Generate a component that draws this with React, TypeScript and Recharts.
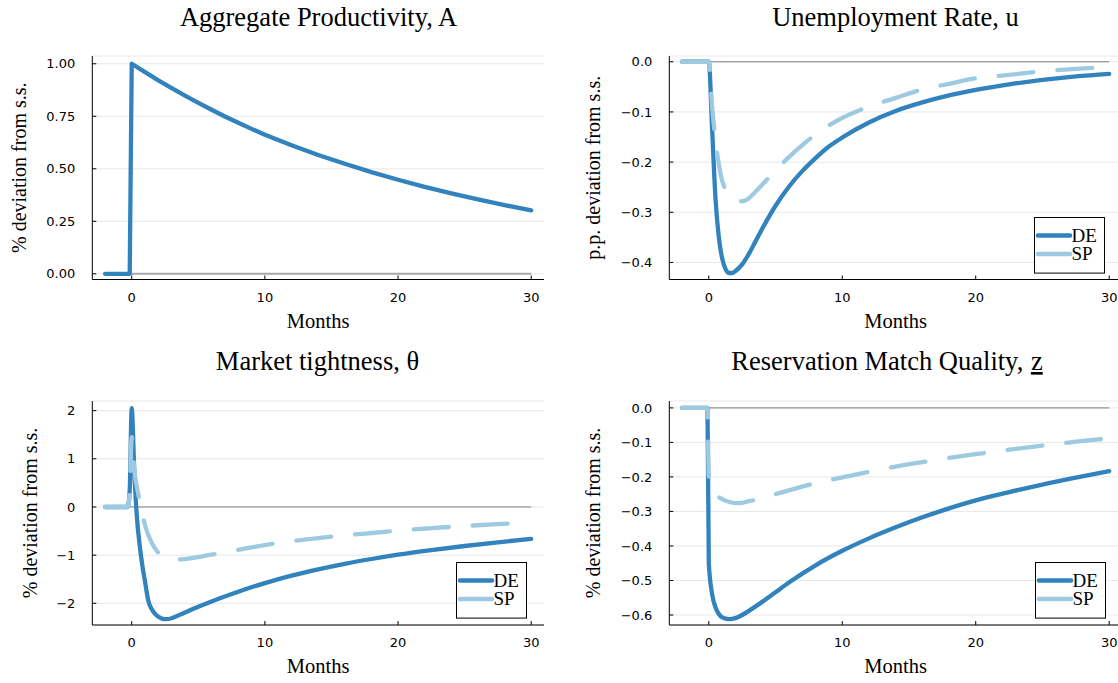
import { CartesianGrid, Legend, Line, LineChart, ReferenceLine, XAxis, YAxis } from "recharts";

// impulse responses, months relative to the shock
const monthsA = [-2, -0.15, 0, 1, 2, 3, 4, 5, 6, 7, 8, 9, 10, 12, 14, 16, 18, 20, 22, 24, 26, 28, 30];
const productivity = [0, 0, 1.0, 0.96, 0.921, 0.884, 0.848, 0.814, 0.781, 0.749, 0.719, 0.69, 0.662, 0.612, 0.566, 0.524, 0.484, 0.448, 0.414, 0.383, 0.354, 0.327, 0.302];

const monthsU = [-2, 0, 0.25, 0.5, 0.75, 1, 1.25, 1.5, 1.75, 2, 2.5, 3, 3.5, 4, 5, 6, 7, 8, 9, 10, 12, 14, 16, 18, 20, 22.5, 25, 27.5, 30];
const unempDE = [0, 0, -0.135, -0.272, -0.35, -0.392, -0.413, -0.421, -0.421, -0.417, -0.404, -0.383, -0.358, -0.333, -0.287, -0.249, -0.218, -0.192, -0.169, -0.151, -0.121, -0.098, -0.081, -0.067, -0.056, -0.045, -0.036, -0.029, -0.024];
const unempSP = [0, 0, -0.09, -0.155, -0.205, -0.237, -0.255, -0.266, -0.273, -0.277, -0.278, -0.272, -0.259, -0.245, -0.217, -0.19, -0.166, -0.145, -0.127, -0.112, -0.089, -0.072, -0.055, -0.044, -0.033, -0.026, -0.019, -0.014, -0.011];

const monthsT = [-2, -0.3, -0.15, 0, 0.2, 0.4, 0.6, 0.8, 1, 1.25, 1.5, 1.75, 2, 2.5, 3, 3.5, 4, 5, 6, 8, 10, 12, 14, 16, 18, 20, 22.5, 25, 27.5, 30];
const tightDE = [0, 0, 0.35, 2.05, 0.7, -0.25, -0.8, -1.22, -1.55, -1.95, -2.12, -2.22, -2.28, -2.33, -2.31, -2.25, -2.19, -2.07, -1.96, -1.76, -1.58, -1.425, -1.295, -1.18, -1.08, -0.99, -0.895, -0.81, -0.733, -0.664];
const tightSP = [0, 0, 0.3, 1.45, 0.75, 0.4, 0.12, -0.14, -0.38, -0.58, -0.74, -0.86, -0.95, -1.04, -1.08, -1.09, -1.08, -1.04, -0.99, -0.89, -0.79, -0.71, -0.645, -0.59, -0.54, -0.49, -0.44, -0.395, -0.355, -0.32];

const monthsZ = [-2, -0.1, 0, 0.25, 0.5, 0.75, 1, 1.5, 2, 2.5, 3, 4, 5, 6, 8, 10, 12, 14, 16, 18, 20, 22.5, 25, 27.5, 30];
const matchDE = [0, 0, -0.45, -0.54, -0.578, -0.597, -0.607, -0.612, -0.609, -0.6, -0.588, -0.562, -0.534, -0.506, -0.456, -0.414, -0.378, -0.346, -0.317, -0.291, -0.268, -0.244, -0.222, -0.202, -0.183];
const matchSP = [0, 0, -0.2, -0.232, -0.248, -0.258, -0.264, -0.272, -0.276, -0.275, -0.27, -0.263, -0.25, -0.239, -0.218, -0.201, -0.185, -0.17, -0.157, -0.145, -0.134, -0.121, -0.109, -0.098, -0.088];

const xTicks = [0, 10, 20, 30];
const ticksA = [0, 0.25, 0.5, 0.75, 1];
const ticksU = [-0.4, -0.3, -0.2, -0.1, 0];
const ticksT = [-2, -1, 0, 1, 2];
const ticksZ = [-0.6, -0.5, -0.4, -0.3, -0.2, -0.1, 0];

const DE_COLOR = "#3182bd";
const SP_COLOR = "#9ecae1";
const SERIF = "'Liberation Serif', 'Times New Roman', serif";
const SANS = "'DejaVu Sans', sans-serif";

type Row = { m: number; de: number; sp?: number };

const toRows = (xs: number[], de: number[], sp?: number[]): Row[] =>
    xs.map((m, i) => ({ m, de: de[i], sp: sp ? sp[i] : undefined }));

const minus = (s: string) => s.replace("-", "\u2212");
const fmt2 = (v: number) => minus(v.toFixed(2));
const fmt1 = (v: number) => (Math.abs(v) < 1e-9 ? "0.0" : minus(v.toFixed(1)));
const fmt0 = (v: number) => (Math.abs(v) < 1e-9 ? "0" : minus(v.toFixed(0)));

const LegendBox = () => (
    <svg width={72} height={58} style={{ display: "block" }}>
        <rect x={0.5} y={0.5} width={70} height={55.6} fill="#fff" stroke="#000" strokeWidth={1} />
        <line x1={4} y1={18.5} x2={36} y2={18.5} stroke={DE_COLOR} strokeWidth={4.6} strokeLinecap="round" />
        <line x1={4} y1={37} x2={36} y2={37} stroke={SP_COLOR} strokeWidth={4.6} strokeLinecap="round" />
        <text x={37.5} y={25} fontFamily={SERIF} fontSize={19} fill="#000">DE</text>
        <text x={37.5} y={43.3} fontFamily={SERIF} fontSize={19} fill="#000">SP</text>
    </svg>
);

interface PanelProps {
    left: number
    top: number
    width: number
    yAxisWidth: number
    marginRight: number
    marginBottom: number
    data: Row[]
    domain: [number, number]
    ticks: number[]
    fmt: (v: number) => string
    yLabel: string
    yLabelX: number
    legendPos?: { left: number; top: number }
    zeroStroke: string
    zeroWidth: number
    curve?: "monotone" | "linear"
}

const Panel = ({
    left, top, width, yAxisWidth, marginRight, marginBottom, data, domain, ticks, fmt,
    yLabel, yLabelX, legendPos, zeroStroke, zeroWidth, curve = "monotone"
}: PanelProps) => {
    const tickStyle = { fill: "#000", fontSize: 13, fontFamily: SANS };
    const hasSP = data.some(r => r.sp !== undefined);

    const yTitle = (props: any) => {
        const vb = props.viewBox;
        const cy = vb.y + vb.height / 2;
        return (
            <text x={yLabelX} y={cy} transform={`rotate(-90, ${yLabelX}, ${cy})`} textAnchor="middle"
                fontFamily={SERIF} fontSize={20} fill="#000">{yLabel}</text>
        );
    };

    const xTitle = (props: any) => {
        const vb = props.viewBox;
        return (
            <text x={vb.x + vb.width / 2} y={vb.y + 48} textAnchor="middle"
                fontFamily={SERIF} fontSize={20.5} fill="#000">Months</text>
        );
    };

    return (
        <div style={{ position: "absolute", left, top }}>
            <LineChart width={width} height={341} data={data}
                margin={{ top: 56, right: marginRight, bottom: marginBottom, left: 0 }}>
                <CartesianGrid vertical={false} stroke="#e8e8e8" />
                <XAxis type="number" dataKey="m" domain={[-2.96, 30.96]} allowDataOverflow ticks={xTicks}
                    interval={0} height={30} stroke="#000" tickSize={-4} tickMargin={17} tick={tickStyle}
                    label={xTitle} />
                <YAxis type="number" domain={domain} allowDataOverflow ticks={ticks} interval={0}
                    width={yAxisWidth} stroke="#000" tickSize={-4} tickMargin={21} tick={tickStyle}
                    tickFormatter={fmt} label={yTitle} />
                <ReferenceLine segment={[{ x: -2, y: 0 }, { x: 30, y: 0 }]} stroke={zeroStroke} strokeWidth={zeroWidth} />
                <Line type={curve} dataKey="de" name="DE" stroke={DE_COLOR} strokeWidth={4.3}
                    strokeLinecap="round" strokeLinejoin="round" dot={false} activeDot={false} isAnimationActive={false} />
                {hasSP && (
                    <Line type={curve} dataKey="sp" name="SP" stroke={SP_COLOR} strokeWidth={4.3}
                        strokeDasharray="35 24" strokeLinecap="round" strokeLinejoin="round"
                        dot={false} activeDot={false} isAnimationActive={false} />
                )}
                {legendPos && (
                    <Legend layout="vertical" align="center" verticalAlign="middle"
                        wrapperStyle={{ left: legendPos.left, top: legendPos.top, width: 72, height: 58 }}
                        content={() => <LegendBox />} />
                )}
            </LineChart>
        </div>
    );
};

export default function App() {
    return (
        <div style={{ position: "absolute", left: 0, top: 0, width: 1118, height: 683, overflow: "hidden", background: "#fff" }}>
            <Panel left={0} top={0} width={559} yAxisWidth={92.3} marginRight={15} marginBottom={31.5}
                data={toRows(monthsA, productivity)} domain={[-0.027, 1.037]} ticks={ticksA} fmt={fmt2}
                yLabel="% deviation from s.s." yLabelX={26} zeroStroke="#a8a8a8" zeroWidth={2} curve="linear" />
            <Panel left={559} top={0} width={580} yAxisWidth={110.3} marginRight={17} marginBottom={31.5}
                data={toRows(monthsU, unempDE, unempSP)} domain={[-0.434, 0.0115]} ticks={ticksU} fmt={fmt1}
                yLabel="p.p. deviation from s.s." yLabelX={41} legendPos={{ left: 475, top: 216.5 }}
                zeroStroke="#808080" zeroWidth={1} />
            <Panel left={0} top={345} width={559} yAxisWidth={92.3} marginRight={15} marginBottom={31}
                data={toRows(monthsT, tightDE, tightSP)} domain={[-2.45, 2.2]} ticks={ticksT} fmt={fmt0}
                yLabel="% deviation from s.s." yLabelX={36.5} legendPos={{ left: 456, top: 217 }}
                zeroStroke="#808080" zeroWidth={1} />
            <Panel left={559} top={345} width={580} yAxisWidth={110.3} marginRight={17} marginBottom={31}
                data={toRows(monthsZ, matchDE, matchSP)} domain={[-0.629, 0.02]} ticks={ticksZ} fmt={fmt1}
                yLabel="% deviation from s.s." yLabelX={41} legendPos={{ left: 476, top: 217 }}
                zeroStroke="#808080" zeroWidth={1} />
            <svg width={1118} height={683} style={{ position: "absolute", left: 0, top: 0, pointerEvents: "none" }}>
                <g fontFamily={SERIF} fontSize={26.5} fill="#000" textAnchor="middle">
                    <text x={318.5} y={26}>Aggregate Productivity, A</text>
                    <text x={895.5} y={26}>Unemployment Rate, u</text>
                    <text x={317.5} y={370}>Market tightness, θ</text>
                    <text x={887} y={370}>
                        Reservation Match Quality, <tspan dx={1} style={{ textDecorationLine: "underline", textUnderlineOffset: "7px" } as any}>z</tspan>
                    </text>
                </g>
            </svg>
        </div>
    );
}
